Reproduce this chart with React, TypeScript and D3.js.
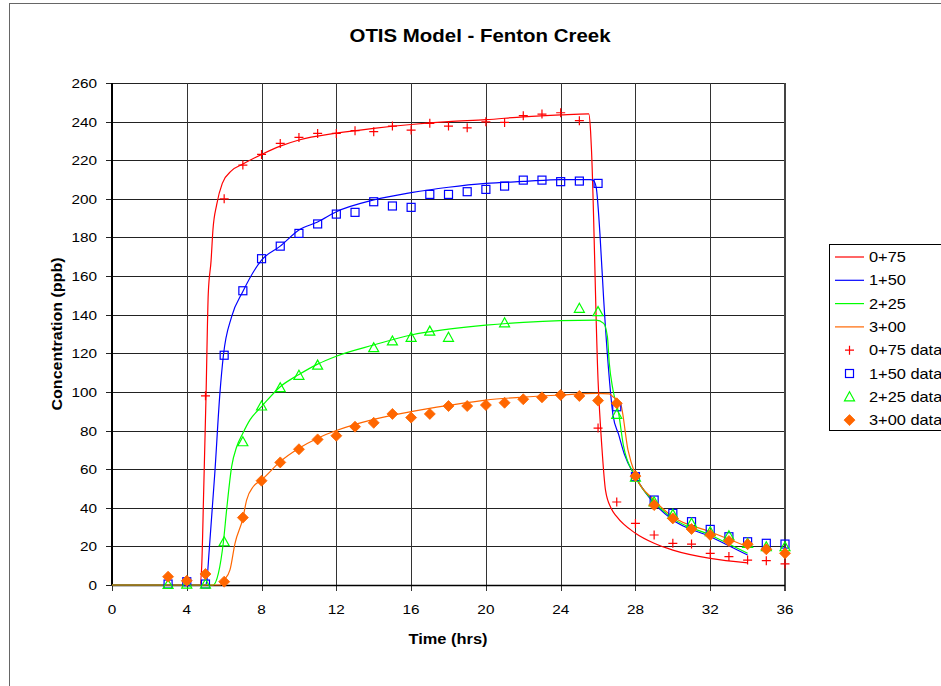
import React from "react";
import * as d3 from "d3";

// model curves [hours, ppb]
const model075 = [
  [0, 0], [4.7, 0], [4.8, 10], [4.9, 47], [5.03, 98], [5.15, 151], [5.3, 168], [5.4, 184],
  [5.6, 197], [5.9, 208], [6.4, 214.6], [7, 218], [8, 223], [9, 227.3], [10, 230.5], [12, 234],
  [14, 236.5], [16, 238.5], [18, 240], [20, 241], [22, 242.5], [24, 243.5], [25.5, 244],
  [25.6, 235], [25.65, 225], [26.0, 106], [26.2, 72], [26.4, 49], [26.7, 39.7], [27, 35.4],
  [28, 26.8], [29, 21.6], [30, 18.1], [32, 13.8], [34, 11.5],
];
const model150 = [
  [0, 0], [5.0, 0], [5.07, 2], [5.2, 18], [5.5, 58], [5.77, 99], [5.96, 119], [6.4, 139],
  [7, 152], [8, 168.3], [9, 175.5], [10, 183.9], [11, 188], [12, 193.3], [14, 199.4],
  [16, 203.2], [18, 206], [20, 208], [22, 209], [24, 210], [25.6, 210], [25.75, 209.5],
  [25.9, 206], [26.1, 182], [26.3, 148], [26.55, 113], [26.8, 88], [27.1, 78], [27.4, 68],
  [28, 56], [29, 42.3], [30, 33.7], [32, 25], [34, 15.5],
];
const model225 = [
  [0, 0], [5.4, 0], [5.69, 6], [5.96, 22.4], [6.13, 38.8], [6.4, 61.3], [6.67, 71.6], [7, 78.6],
  [7.38, 85.5], [8, 92.4], [9, 102.7], [10, 109], [11, 114.4], [12, 118.5], [14, 124.3],
  [16, 129.5], [18, 132.5], [20, 134.6], [22, 136], [24, 136.9], [25.9, 137.2], [26.3, 135.5],
  [26.5, 128.6], [26.6, 115], [26.8, 101], [27.1, 89], [27.36, 72], [28, 56], [29, 43],
  [30, 34.5], [32, 25.9], [34, 16.4],
];
const model300 = [
  [0, 0], [5.8, 0], [6, 2.6], [6.31, 7.8], [6.58, 21.6], [7, 34.5], [7.2, 44], [7.56, 51],
  [8, 54.4], [9, 63.9], [10, 70.8], [11, 76], [12, 80], [14, 85.8], [16, 89.8], [18, 93],
  [20, 95.8], [22, 97.3], [24, 98.4], [25.9, 99.3], [26.6, 99], [26.8, 97.5], [27.2, 94],
  [27.6, 70], [28, 57], [29, 44], [30, 35.4], [32, 27.6], [34, 19.8],
];

// observed data
const hours075 = d3.range(5, 37);
const data075 = [98, 200, 217.5, 223, 228.7, 231.8, 233.9, 233.9, 235.3, 234.8, 237.7, 235.6,
  239.1, 237.7, 236.8, 239.9, 239.6, 243.1, 243.9, 244.6, 240.5, 81.3, 43, 31.9, 25.9, 21.6,
  21.2, 16.4, 14.7, 12.9, 12.6, 10.9];
const hours150 = d3.range(3, 37);
const data150 = [0.5, 1.7, 0.5, 119, 152.4, 169, 175.5, 182.1, 187, 192.1, 193, 198.5, 196.3,
  195.6, 202.3, 202.3, 203.7, 204.9, 206.6, 209.7, 209.7, 208.9, 209.2, 208, 92.3, 56.1, 44,
  37.1, 32.8, 28.8, 25, 22.4, 21.6, 21.2];
const hours225 = [3, 4, 5, 6, 7, 8, 9, 10, 11, 14, 15, 16, 17, 18, 21, 25, 26, 27, 28, 29, 30,
  31, 32, 33, 34, 35, 36];
const data225 = [0.3, 0.5, 0.5, 22.4, 74.2, 92.7, 102.2, 108.6, 113.9, 122.9, 126.4, 128.3,
  131.5, 128.3, 135.8, 143.3, 141.6, 88.4, 55.8, 43.1, 36.6, 32, 27.6, 25.5, 21.6, 19.8, 19.8];
const hours300 = d3.range(3, 37);
const data300 = [4.3, 2.2, 5.7, 1.7, 34.9, 54, 63.5, 70.3, 75.4, 77.3, 82, 84, 88.6, 86.7, 88.6,
  92.7, 92.7, 93.2, 94.4, 96.2, 97.2, 98.4, 97.9, 95.5, 94.1, 56.4, 41.4, 34.5, 29, 25.9, 22.8,
  21.1, 18.5, 16.4];

const xTicks = d3.range(0, 37, 4);
const yTicks = d3.range(0, 261, 20);

const RED = "#ff0000";
const BLUE = "#0000ff";
const GREEN = "#00ff00";
const ORANGE = "#ff6600";

const FONT = "'Liberation Sans', Arial, sans-serif";

// text a bit wider than plain Arial, like the original rendering
const T = ({ x, y, sx = 1.18, size = 13, anchor = "start", bold = false, children }: any) => (
  <text
    transform={`translate(${x},${y}) scale(${sx},1)`}
    textAnchor={anchor}
    fontSize={size}
    fontWeight={bold ? "bold" : "normal"}
  >
    {children}
  </text>
);

const plus = (x: number, y: number, c: string, k: string) => (
  <path key={k} d={`M${x - 4.5},${y}H${x + 4.5}M${x},${y - 4.5}V${y + 4.5}`} stroke={c} strokeWidth={1.2} fill="none" />
);
const square = (x: number, y: number, c: string, k: string) => (
  <rect key={k} x={x - 4} y={y - 4} width={8} height={8} stroke={c} strokeWidth={1.2} fill="none" />
);
const tri = (x: number, y: number, c: string, k: string) => (
  <path key={k} d={`M${x},${y - 5}L${x + 5},${y + 4}L${x - 5},${y + 4}Z`} stroke={c} strokeWidth={1.2} fill="none" />
);
const diamond = (x: number, y: number, c: string, k: string) => (
  <path key={k} d={`M${x},${y - 5.5}L${x + 5.5},${y}L${x},${y + 5.5}L${x - 5.5},${y}Z`} fill={c} stroke={c} strokeWidth={0.8} />
);

export default function App() {
  const left = 112, right = 785, top = 83, bottom = 585;
  const x = d3.scaleLinear().domain([0, 36]).range([left, right]);
  const y = d3.scaleLinear().domain([0, 260]).range([bottom, top]);
  const line = d3.line<number[]>().x((d) => x(d[0])).y((d) => y(d[1])).curve(d3.curveMonotoneX);

  const models = [
    { name: "0+75", pts: model075, c: RED },
    { name: "1+50", pts: model150, c: BLUE },
    { name: "2+25", pts: model225, c: GREEN },
    { name: "3+00", pts: model300, c: ORANGE },
  ];
  const obs = [
    { name: "0+75 data", h: hours075, v: data075, c: RED, m: plus },
    { name: "1+50 data", h: hours150, v: data150, c: BLUE, m: square },
    { name: "2+25 data", h: hours225, v: data225, c: GREEN, m: tri },
    { name: "3+00 data", h: hours300, v: data300, c: ORANGE, m: diamond },
  ];

  return (
    <svg width={941} height={686} style={{ position: "absolute", left: 0, top: 0, background: "#fff" }} fontFamily={FONT}>
      <rect x={9.5} y={3.5} width={1000} height={1000} fill="#fff" stroke="#666" />
      <text x={480} y={42} textAnchor="middle" fontSize={18} fontWeight="bold" textLength={261} lengthAdjust="spacingAndGlyphs">
        OTIS Model - Fenton Creek
      </text>

      {/* grid */}
      {yTicks.map((t) => (
        <line key={"gy" + t} x1={left - 6} x2={right} y1={Math.round(y(t)) + 0.5} y2={Math.round(y(t)) + 0.5} stroke="#222" />
      ))}
      {xTicks.map((t) => (
        <line key={"gx" + t} x1={Math.round(x(t)) + 0.5} x2={Math.round(x(t)) + 0.5} y1={top} y2={bottom + 6} stroke="#333" />
      ))}
      <line x1={left} x2={left} y1={top} y2={bottom} stroke="#000" strokeWidth={2} />
      <line x1={right} x2={right} y1={top} y2={bottom + 6} stroke="#444" strokeWidth={2} />
      <line x1={left} x2={right} y1={bottom + 0.5} y2={bottom + 0.5} stroke="#000" strokeWidth={1.5} />

      {yTicks.map((t) => (
        <T key={"ty" + t} x={97} y={y(t) + 5} anchor="end">{t}</T>
      ))}
      {xTicks.map((t) => (
        <T key={"tx" + t} x={x(t)} y={614} anchor="middle">{t}</T>
      ))}
      <text x={448} y={644} textAnchor="middle" fontSize={14} fontWeight="bold" textLength={79} lengthAdjust="spacingAndGlyphs">
        Time (hrs)
      </text>
      <text
        transform={`translate(62,${(top + bottom) / 2}) rotate(-90)`}
        textAnchor="middle"
        fontSize={14}
        fontWeight="bold"
        textLength={153}
        lengthAdjust="spacingAndGlyphs"
      >
        Concentration (ppb)
      </text>

      {/* model lines */}
      {models.map((m) => (
        <path key={m.name} d={line(m.pts) || ""} fill="none" stroke={m.c} strokeWidth={1.2} />
      ))}
      {/* observed markers */}
      {obs.map((o) => (
        <g key={o.name}>{o.h.map((h, i) => o.m(x(h), y(o.v[i]), o.c, o.name + i))}</g>
      ))}

      {/* legend */}
      <g>
        <rect x={829.5} y={244.5} width={200} height={186} fill="#fff" stroke="#000" />
        {models.map((m, i) => (
          <g key={"lm" + i}>
            <line x1={835} x2={864} y1={257 + i * 23.3} y2={257 + i * 23.3} stroke={m.c} strokeWidth={1.2} />
            <T x={869} y={262 + i * 23.3} size={14} sx={1.17}>{m.name}</T>
          </g>
        ))}
        {obs.map((o, i) => (
          <g key={"lo" + i}>
            {o.m(849.5, 257 + (i + 4) * 23.3, o.c, "lom" + i)}
            <T x={869} y={262 + (i + 4) * 23.3} size={14} sx={1.17}>{o.name}</T>
          </g>
        ))}
      </g>
    </svg>
  );
}
